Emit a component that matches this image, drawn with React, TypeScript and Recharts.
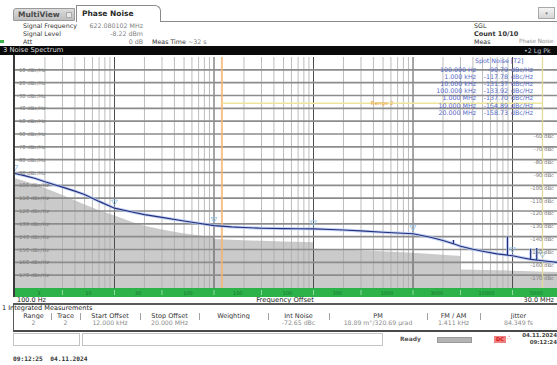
import React from 'react';
import { ComposedChart, Line, Area, XAxis, YAxis, ReferenceLine, Scatter } from 'recharts';

const SANS = '"DejaVu Sans", "Noto Sans", sans-serif';
const MONO = '"DejaVu Sans Mono", monospace';

// Spot noise readout (trace 2)
const spotFreq = [100, 1000, 10000, 100000, 1000000, 10000000, 20000000];
const spotFreqLabel = ['100.000 Hz', '1.000 kHz', '10.000 kHz', '100.000 kHz', '1.000 MHz', '10.000 MHz', '20.000 MHz'];
const spotLevel = [-90.79, -117.78, -131.37, -133.92, -137.7, -154.89, -158.73];

// Trace 2 between the spot frequencies (Hz / dBc/Hz); repeated frequencies are spurs
const traceFreq = [130, 160, 200, 250, 300, 400, 500, 700, 1500, 2000, 3000, 5000, 7000, 15000, 20000, 30000, 50000, 70000,
  150000, 200000, 300000, 500000, 700000, 1500000, 2000000, 2550000, 2550000, 2550000, 3000000, 4000000, 5000000, 7000000,
  8900000, 8900000, 8900000, 12500000, 15200000, 15200000, 15200000, 17500000, 17500000, 17500000, 25000000, 30000000];
const traceLevel = [-92.8, -94.6, -97.2, -99.5, -101.4, -104.5, -107.2, -112.5, -120.8, -122.8, -125, -127.8, -129.6, -132.4, -132.9, -133.4, -133.7, -133.8,
  -134.4, -134.8, -135.5, -136.6, -137.2, -140.5, -143, -145.5, -142.5, -145.5, -147.5, -149.8, -151.3, -153.4,
  -154.4, -140, -154.4, -156.4, -157.6, -149.5, -157.6, -158.2, -148.8, -158.2, -159.6, -160.3];

// Shaded reference floor (stepped per offset range)
const floorFreq = [100, 150, 200, 300, 500, 700, 1000, 1500, 2000, 3000, 5000, 9990, 10000, 20000, 50000, 99900, 100000, 300000, 1000000, 2990000, 3000000, 10000000, 30000000];
const floorLevel = [-94.5, -98.5, -102, -107.5, -115, -119.5, -123.5, -128.5, -131.5, -134.5, -137.5, -140.5, -141.8, -142.8, -143.8, -144.3, -149.5, -150.5, -152.5, -155, -165.5, -166.5, -167.5];

// Axes
const levelTicks = [-10, -20, -30, -40, -50, -60, -70, -80, -90, -100, -110, -120, -130, -140, -150, -160, -170];
const rightTicks = [-60, -70, -80, -90, -100, -110, -120, -130, -140, -150, -160, -170];
const decadeTicks = [1000, 10000, 100000, 1000000];
const decadeLabels = ['1 kHz', '10 kHz', '100 kHz', '1 MHz'];
const decadeLines = [1000, 10000, 100000, 1000000, 10000000];
const minorMultipliers = [2, 3, 4, 5, 6, 7, 8, 9];
const minorDecades = [100, 1000, 10000, 100000, 1000000, 10000000];

// Offset ranges shown in the bar under the diagram
const segBounds = [100, 300, 1000, 3000, 10000, 30000, 100000, 300000, 1000000, 3000000, 10000000, 30000000];
const segLabels = ['3', '10', '30', '100', '100', '100', '300', '1000', '3000', '10000', '5000'];

// Integrated measurement table
const tableHeads = ['Range', 'Trace', 'Start Offset', 'Stop Offset', 'Weighting', 'Int Noise', 'PM', 'FM / AM', 'Jitter'];
const tableValues = ['2', '2', '12.000 kHz', '20.000 MHz', '', '-72.65 dBc', '18.89 m°/320.69 µrad', '1.411 kHz', '84.349 fs'];
const tableEdges = [16, 51, 80, 140, 199, 268, 329, 427, 480, 557];

const rangeStart = 12000;
const rangeStop = 20000000;
const rangeLevel = -36;

const traceData = [
  ...spotFreq.map((f, i) => ({ f, v: spotLevel[i] })),
  ...traceFreq.map((f, i) => ({ f, v: traceLevel[i] })),
].sort((a, b) => a.f - b.f);
const floorData = floorFreq.map((f, i) => ({ f, v: floorLevel[i] }));
const spotData = spotFreq.map((f, i) => ({ f, v: spotLevel[i] }));

const minorLines: number[] = [];
minorDecades.forEach((d) => minorMultipliers.forEach((m) => { if (d * m <= 30000000) minorLines.push(d * m); }));

const segCenters = segLabels.map((_, i) => Math.sqrt(segBounds[i] * segBounds[i + 1]));
const segEdges = segBounds.slice(1, -1);
const segTicks = [...segCenters, ...segEdges].sort((a, b) => a - b);

const abs = (o: React.CSSProperties): React.CSSProperties => ({ position: 'absolute', whiteSpace: 'nowrap', ...o });

function SegTick(props: any) {
  const { x, y, payload } = props;
  const ci = segCenters.indexOf(payload.value);
  if (ci >= 0) {
    return (
      <text x={x} y={y + 6.5} textAnchor="middle" fontSize={5} fontFamily={SANS} fill="#17742f">{segLabels[ci]}</text>
    );
  }
  return <line x1={x} x2={x} y1={y + 2} y2={y + 7} stroke="#8fdc9f" strokeWidth={1} />;
}

function LeftTick(props: any) {
  const { x, y, payload } = props;
  return (
    <text x={x} y={y + 2} textAnchor="start" fontSize={5.3} fontFamily={SANS} fill="#7a7a7a">{`${payload.value} dBc/Hz`}</text>
  );
}

function TopTick(props: any) {
  const { x, y, payload } = props;
  return (
    <text x={x} y={y + 4} textAnchor="middle" fontSize={5} fontFamily={SANS} fill="#7a7a7a">
      {decadeLabels[decadeTicks.indexOf(payload.value)]}
    </text>
  );
}

function MarkerShape(props: any) {
  const { cx, cy } = props;
  return (
    <path d={`M${cx - 3},${cy - 8} L${cx + 3},${cy - 8} L${cx},${cy - 3} Z`} fill="none" stroke="#8ec3ee" strokeWidth={0.8} />
  );
}

export default function App() {
  return (
    <div style={{ position: 'absolute', left: 0, top: 0, width: 557, height: 365, overflow: 'hidden', background: '#ffffff', fontFamily: SANS }}>
      {/* tab strip */}
      <div style={abs({ left: 13, top: 8, width: 62, height: 13, background: 'linear-gradient(#dcdcdc,#bdbdbd)', borderTopLeftRadius: 3, border: '1px solid #9a9a9a', boxSizing: 'border-box' })} />
      <div style={abs({ left: 18, top: 10, fontSize: 7.5, fontWeight: 'bold', color: '#4a4a4a' })}>MultiView</div>
      <div style={abs({ left: 66, top: 12, width: 6, height: 6, border: '1px solid #aaa', background: '#e8e8e8', boxSizing: 'border-box' })} />
      <div style={abs({ left: 76, top: 5, width: 85, height: 17, background: '#fff', border: '1px solid #8a8a8a', borderBottom: 'none', borderTopRightRadius: 6, boxSizing: 'border-box' })} />
      <div style={abs({ left: 82, top: 9, fontSize: 7.5, fontWeight: 'bold', color: '#2a2a2a' })}>Phase Noise</div>
      <div style={abs({ left: 160, top: 21, width: 397, height: 1, background: '#8a8a8a' })} />
      <div style={abs({ left: 538, top: 7, width: 17, height: 12, background: 'linear-gradient(#f4f4f4,#d6d6d6)', border: '1px solid #a8a8a8', boxSizing: 'border-box', fontSize: 5, color: '#777', textAlign: 'center', lineHeight: '10px' })}>▾</div>

      {/* settings header */}
      <div style={abs({ left: 23, top: 22, fontSize: 6.3, color: '#333' })}>Signal Frequency</div>
      <div style={abs({ left: 85, top: 22, width: 58, textAlign: 'right', fontSize: 6.3, color: '#808080' })}>622.080102 MHz</div>
      <div style={abs({ left: 23, top: 30, fontSize: 6.3, color: '#333' })}>Signal Level</div>
      <div style={abs({ left: 85, top: 30, width: 58, textAlign: 'right', fontSize: 6.3, color: '#808080' })}>-8.22 dBm</div>
      <div style={abs({ left: 0, top: 40, width: 4, height: 3, background: '#3cb44b' })} />
      <div style={abs({ left: 23, top: 38, fontSize: 6.3, color: '#333' })}>Att</div>
      <div style={abs({ left: 85, top: 38, width: 58, textAlign: 'right', fontSize: 6.3, color: '#808080' })}>0 dB</div>
      <div style={abs({ left: 152, top: 38, fontSize: 6.3, color: '#333' })}>Meas Time <span style={{ color: '#808080' }}>~32 s</span></div>
      <div style={abs({ left: 474, top: 22, fontSize: 6.3, color: '#333' })}>SGL</div>
      <div style={abs({ left: 474, top: 30, fontSize: 6.5, color: '#333', fontWeight: 600 })}>Count 10/10</div>
      <div style={abs({ left: 474, top: 38, fontSize: 6.3, color: '#333' })}>Meas</div>
      <div style={abs({ left: 519, top: 38, fontSize: 5.7, color: '#909090' })}>Phase Noise</div>

      {/* window title bar */}
      <div style={abs({ left: 0, top: 46, width: 557, height: 9, background: '#0a0a0a' })} />
      <div style={abs({ left: 3, top: 46, fontSize: 6.8, color: '#dcdcdc', lineHeight: '9px' })}>3 Noise Spectrum</div>
      <div style={abs({ left: 524, top: 46, fontSize: 6.3, color: '#bfc8d8', lineHeight: '9px' })}>•2 Lg Pk</div>

      {/* frame and bar under the diagram */}
      <div style={abs({ left: 15, top: 288, width: 545, height: 9, background: '#2db24a' })} />
      <div style={abs({ left: 13, top: 55, width: 2, height: 242, background: '#3a3a3a' })} />

      <div style={abs({ left: 15, top: 57 })}>
        <ComposedChart width={545} height={240} margin={{ top: 0, right: 0, bottom: 0, left: 0 }}>
          <XAxis xAxisId="f" dataKey="f" type="number" scale="log" domain={[100, 30000000]} ticks={segTicks} interval={0}
            height={9} axisLine={false} tickLine={false} tickSize={0} tickMargin={0} tick={(p: any) => <SegTick {...p} />} />
          <XAxis xAxisId="top" orientation="top" type="number" scale="log" domain={[100, 30000000]} mirror ticks={decadeTicks} interval={0}
            axisLine={false} tickLine={false} tickSize={0} tickMargin={0} tick={(p: any) => <TopTick {...p} />} />
          <YAxis yAxisId="l" type="number" domain={[-180, 0]} mirror ticks={levelTicks} interval={0}
            axisLine={false} tickLine={false} tickSize={0} tickMargin={2} tick={(p: any) => <LeftTick {...p} />} />

          <Area xAxisId="f" yAxisId="l" data={floorData} dataKey="v" type="linear" baseValue={-180}
            stroke="none" fill="#7a7a7a" fillOpacity={0.4} isAnimationActive={false} />

          {minorLines.map((f) => (
            <ReferenceLine key={`m${f}`} xAxisId="f" yAxisId="l" x={f} stroke="#ababab" strokeWidth={0.8} />
          ))}
          {decadeLines.map((f) => (
            <ReferenceLine key={`d${f}`} xAxisId="f" yAxisId="l" x={f} stroke="#4d4d4d" strokeWidth={1} />
          ))}
          {levelTicks.map((v) => (
            <ReferenceLine key={`h${v}`} xAxisId="f" yAxisId="l" y={v} stroke="#8c8c8c" strokeWidth={1.6}
              label={rightTicks.includes(v)
                ? { value: `${v} dBc`, position: 'insideRight', offset: 6, dy: 2.5, fill: '#7a7a7a', fontSize: 5.3, fontFamily: SANS }
                : undefined} />
          ))}

          <ReferenceLine xAxisId="f" yAxisId="l" x={rangeStart} stroke="#f6b370" strokeWidth={2} strokeOpacity={0.8} />
          <ReferenceLine xAxisId="f" yAxisId="l" x={rangeStop} stroke="#f3e39a" strokeWidth={1.5} strokeOpacity={0.7} />
          <ReferenceLine xAxisId="f" yAxisId="l" segment={[{ x: rangeStart, y: rangeLevel }, { x: rangeStop, y: rangeLevel }]}
            stroke="#ece59a" strokeWidth={1.5}
            label={{ value: 'Range 2', position: 'center', fill: '#f0a040', fontSize: 5.5, fontFamily: SANS }} />

          <Line xAxisId="f" yAxisId="l" data={traceData} dataKey="v" type="linear" stroke="#b4c6f0" strokeWidth={3}
            strokeOpacity={0.8} dot={false} isAnimationActive={false} />
          <Line xAxisId="f" yAxisId="l" data={traceData} dataKey="v" type="linear" stroke="#23307e" strokeWidth={1.1}
            dot={false} isAnimationActive={false} />
          <Scatter xAxisId="f" yAxisId="l" data={spotData} dataKey="v" shape={<MarkerShape />} isAnimationActive={false} />
        </ComposedChart>
      </div>

      {/* spot noise readout */}
      <div style={abs({ left: 475, top: 57, fontSize: 6.3, color: '#5568c8' })}>Spot Noise [T2]</div>
      {spotFreqLabel.map((lab, i) => (
        <React.Fragment key={lab}>
          <div style={abs({ left: 420, top: 66 + i * 7.1, width: 56, textAlign: 'right', fontSize: 6.3, color: '#5568c8' })}>{lab}</div>
          <div style={abs({ left: 478, top: 66 + i * 7.1, width: 30, textAlign: 'right', fontSize: 6.3, color: '#5568c8' })}>{spotLevel[i].toFixed(2)}</div>
          <div style={abs({ left: 511, top: 66 + i * 7.1, fontSize: 6.3, color: '#5568c8' })}>dBc/Hz</div>
        </React.Fragment>
      ))}

      {/* x axis captions */}
      <div style={abs({ left: 17, top: 296, fontSize: 6.5, color: '#222' })}>100.0 Hz</div>
      <div style={abs({ left: 235, top: 296, width: 100, textAlign: 'center', fontSize: 6.8, color: '#222' })}>Frequency Offset</div>
      <div style={abs({ left: 500, top: 296, width: 54, textAlign: 'right', fontSize: 6.5, color: '#222' })}>30.0 MHz</div>
      <div style={abs({ left: 13, top: 303, width: 544, height: 2, background: '#5a5a5a' })} />

      {/* integrated measurements */}
      <div style={abs({ left: 2, top: 305, fontSize: 6.5, lineHeight: '6px', color: '#222' })}>1 Integrated Measurements</div>
      <div style={abs({ left: 13, top: 305, width: 1, height: 26, background: '#5a5a5a' })} />
      {tableHeads.map((h, i) => (
        <div key={h} style={abs({ left: tableEdges[i] + 1, top: 313, width: tableEdges[i + 1] - tableEdges[i] - 2, textAlign: 'center', fontSize: 6.5, lineHeight: '6px', color: '#333', overflow: 'hidden' })}>{h}</div>
      ))}
      {tableEdges.slice(1, -1).map((x) => (
        <div key={x} style={abs({ left: x, top: 313, width: 1, height: 7, background: '#a0a0a0' })} />
      ))}
      {tableValues.map((v, i) => (
        <div key={`v${i}`} style={abs({ left: tableEdges[i] + 1, top: 320, width: tableEdges[i + 1] - tableEdges[i] - 2, textAlign: 'center', fontSize: 6.2, lineHeight: '6px', color: '#8a8a8a', overflow: 'hidden' })}>{v}</div>
      ))}
      <div style={abs({ left: 13, top: 330, width: 544, height: 2, background: '#4a4a4a' })} />

      {/* status bar */}
      <div style={abs({ left: 13, top: 333, width: 67, height: 13, border: '1px solid #c4c4c4', boxSizing: 'border-box' })} />
      <div style={abs({ left: 82, top: 333, width: 301, height: 13, border: '1px solid #c4c4c4', boxSizing: 'border-box' })} />
      <div style={abs({ left: 400, top: 335, fontSize: 6, fontWeight: 'bold', color: '#555' })}>Ready</div>
      <div style={abs({ left: 437, top: 337, width: 35, height: 6, background: '#b4b4b4', border: '1px solid #999', boxSizing: 'border-box' })} />
      <div style={abs({ left: 494, top: 336, width: 12, height: 7, background: '#f08080', fontSize: 5, fontWeight: 'bold', color: '#d01010', textAlign: 'center', lineHeight: '7px' })}>DC</div>
      <div style={abs({ left: 507, top: 334, fontSize: 7, color: '#e03030' })}>∴</div>
      <div style={abs({ left: 520, top: 332, width: 37, textAlign: 'right', fontSize: 5.5, fontWeight: 'bold', color: '#444' })}>04.11.2024</div>
      <div style={abs({ left: 520, top: 339, width: 37, textAlign: 'right', fontSize: 5.5, fontWeight: 'bold', color: '#444' })}>09:12:24</div>

      <div style={abs({ left: 13, top: 355, fontSize: 6.2, fontWeight: 'bold', color: '#333', fontFamily: MONO })}>09:12:25&nbsp;&nbsp;04.11.2024</div>
    </div>
  );
}
